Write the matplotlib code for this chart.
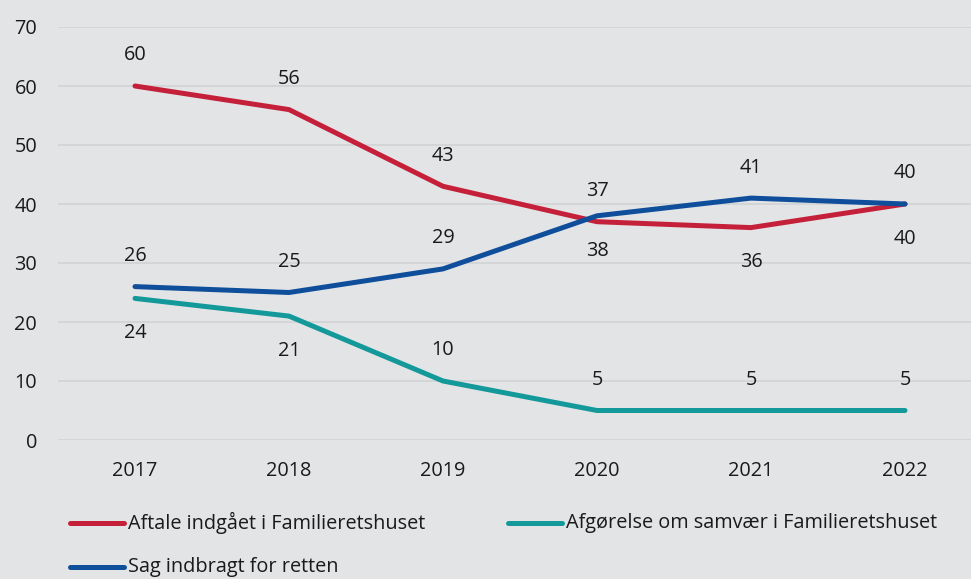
import matplotlib
matplotlib.use("Agg")
import matplotlib.pyplot as plt
from matplotlib.lines import Line2D

years = ["2017", "2018", "2019", "2020", "2021", "2022"]
aftale = [60, 56, 43, 37, 36, 40]
afgorelse = [24, 21, 10, 5, 5, 5]
sag = [26, 25, 29, 38, 41, 40]
series_names = ["Aftale indgået i Familieretshuset",
                "Afgørelse om samvær i Familieretshuset",
                "Sag indbragt for retten"]
# label placement: +1 above, -1 below
aftale_pos = [1, 1, 1, 1, -1, -1]
afgorelse_pos = [-1, -1, 1, 1, 1, 1]
sag_pos = [1, 1, 1, -1, 1, 1]

RED = "#C5203A"
TEAL = "#14999B"
BLUE = "#0E4E9B"
BG = "#E3E4E6"
GRID = "#D2D3D5"

plt.rcParams["font.family"] = ["Open Sans", "DejaVu Sans"]
FS = 14.3

fig = plt.figure(figsize=(9.71, 5.79), dpi=100, facecolor=BG)
ax = fig.add_axes([58 / 971, 1 - 440 / 579, 1 - 58 / 971, (440 - 27) / 579])
ax.set_facecolor(BG)

x = list(range(len(years)))
for vals, pos, col in [(aftale, aftale_pos, RED), (afgorelse, afgorelse_pos, TEAL), (sag, sag_pos, BLUE)]:
    ax.plot(x, vals, color=col, lw=3.6, solid_capstyle="round", zorder=3)
    for xi, v, p in zip(x, vals, pos):
        off = 22 if p > 0 else -25
        ax.annotate(str(v), (xi, v), xytext=(0, off), textcoords="offset points",
                    ha="center", va="center", fontsize=FS, color="#1a1a1a")

ax.set_xlim(-0.5, (971 - 135) / 154)
ax.set_ylim(0, 70)
ax.set_yticks(range(0, 71, 10))
ax.set_xticks(x)
ax.set_xticklabels(years)
ax.grid(axis="y", color=GRID, lw=1.2)
ax.set_axisbelow(True)
for s in ax.spines.values():
    s.set_visible(False)
ax.tick_params(length=0, labelsize=FS, colors="#1a1a1a")
ax.tick_params(axis="y", pad=15)
ax.tick_params(axis="x", pad=15)

# legend
entries = [(RED, series_names[0], 70, 523),
           (TEAL, series_names[1], 508, 523),
           (BLUE, series_names[2], 70, 567)]
for col, name, px, py in entries:
    fy = 1 - py / 579
    fig.add_artist(Line2D([px / 971, (px + 54) / 971], [fy, fy], color=col, lw=3.6,
                          solid_capstyle="round", transform=fig.transFigure))
    fig.text((px + 58) / 971, fy, name, ha="left", va="center", fontsize=FS, color="#1a1a1a")

fig.savefig("out.png", dpi=100, facecolor=BG)
